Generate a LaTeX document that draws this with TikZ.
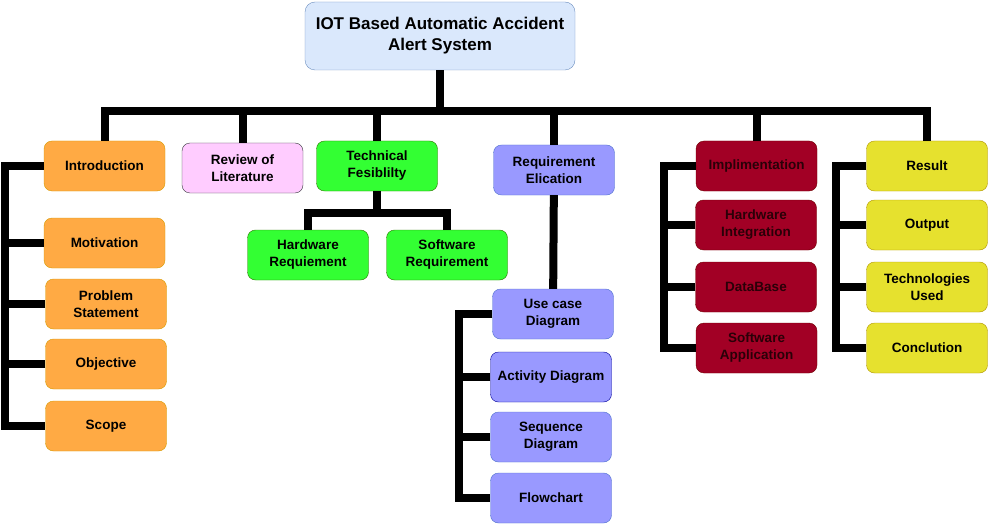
\documentclass[tikz,border=0pt]{standalone}
\usepackage{fontspec}
\setmainfont{Liberation Sans}
\usepackage{tikz}
\usetikzlibrary{positioning}

\definecolor{titlefill}{HTML}{DAE8FC}
\definecolor{titleline}{HTML}{6C8EBF}
\definecolor{orangefill}{HTML}{FFAA44}
\definecolor{orangeline}{HTML}{D79B00}
\definecolor{pinkfill}{HTML}{FFCCFF}
\definecolor{pinkline}{HTML}{36393D}
\definecolor{greenfill}{HTML}{33FF33}
\definecolor{greenline}{HTML}{2D7600}
\definecolor{bluefill}{HTML}{9999FF}
\definecolor{blueline}{HTML}{4D6FCC}
\definecolor{redfill}{HTML}{A20025}
\definecolor{redline}{HTML}{6F0000}
\definecolor{redtext}{HTML}{2A0008}
\definecolor{yellowfill}{HTML}{E6E12E}
\definecolor{yellowline}{HTML}{B09500}

\tikzset{
  box/.style={rounded corners=8pt, minimum width=121pt, minimum height=50pt,
    align=center, inner sep=2pt, font=\fontsize{13.5}{17}\selectfont\bfseries},
  intro/.style={box, fill=orangefill, draw=orangeline},
  review/.style={box, fill=pinkfill, draw=pinkline},
  tech/.style={box, fill=greenfill, draw=greenline},
  req/.style={box, fill=bluefill, draw=blueline},
  impl/.style={box, fill=redfill, draw=redline, text=redtext},
  result/.style={box, fill=yellowfill, draw=yellowline},
  conn/.style={line width=8pt, line join=miter}
}

\begin{document}
\begin{tikzpicture}[x=1pt,y=-1pt]
\useasboundingbox (0,0) rectangle (988,524);

\node[rounded corners=10pt, fill=titlefill, draw=titleline, minimum width=270pt,
  minimum height=68pt, align=center, font=\fontsize{17}{21}\selectfont\bfseries]
  (title) at (440,36) {IOT Based Automatic Accident\\Alert System};

\node[intro] (intro) at (104.5,166) {Introduction};
\node[intro] (motiv) at (104.5,243) {Motivation};
\node[intro] (prob) at (106,304) {Problem\\Statement};
\node[intro] (obj) at (106,364) {Objective};
\node[intro] (scope) at (106,426) {Scope};

\node[review] (rev) at (242.5,168) {Review of\\Literature};

\node[tech] (tech) at (377,166) {Technical\\Fesiblilty};
\node[tech] (hw) at (308,255) {Hardware\\Requiement};
\node[tech] (sw) at (447,255) {Software\\Requirement};

\node[req] (elic) at (554,170) {Requirement\\Elication};
\node[req] (usecase) at (553,314) {Use case\\Diagram};
\node[req, draw=blue!60!black] (activity) at (551,377) {Activity Diagram};
\node[req] (sequence) at (551,437) {Sequence\\Diagram};
\node[req] (flow) at (551,498) {Flowchart};

\node[impl] (impl) at (756.5,166) {Implimentation};
\node[impl] (hwint) at (756,225) {Hardware\\Integration};
\node[impl] (db) at (756,287) {DataBase};
\node[impl] (swapp) at (756.5,348) {Software\\Application};

\node[result] (res) at (927,166) {Result};
\node[result] (out) at (927,225) {Output};
\node[result] (techused) at (927,287) {Technologies\\Used};
\node[result] (concl) at (927,348) {Conclution};

% main bus
\coordinate (bus) at (440,111);
\draw[conn] (title) -- (bus);
\draw[conn] (intro.north) |- (bus) -| (res.north);
\draw[conn] (rev.north) -- (rev.north |- bus);
\draw[conn] (tech.north) -- (tech.north |- bus);
\draw[conn] (elic.north) -- (elic.north |- bus);
\draw[conn] (impl.north) -- (impl.north |- bus);

% introduction
\coordinate (lsp) at (4.5,426);
\draw[conn] (intro.west) -| (lsp) -- (scope.west);
\draw[conn] (motiv.west) -- (motiv.west -| lsp);
\draw[conn] (prob.west) -- (prob.west -| lsp);
\draw[conn] (obj.west) -- (obj.west -| lsp);

% technical
\coordinate (tj) at (377,213);
\draw[conn] (tech) -- (tj);
\draw[conn] (hw.north) |- (tj) -| (sw.north);

% requirement
\coordinate (rsp) at (459,498);
\draw[conn] (elic) -- (usecase);
\draw[conn] (usecase.west) -| (rsp) -- (flow.west);
\draw[conn] (activity.west) -- (activity.west -| rsp);
\draw[conn] (sequence.west) -- (sequence.west -| rsp);

% implementation
\coordinate (isp) at (664,348);
\draw[conn] (impl.west) -| (isp) -- (swapp.west);
\draw[conn] (hwint.west) -- (hwint.west -| isp);
\draw[conn] (db.west) -- (db.west -| isp);

% result
\coordinate (ssp) at (836,348);
\draw[conn] (res.west) -| (ssp) -- (concl.west);
\draw[conn] (out.west) -- (out.west -| ssp);
\draw[conn] (techused.west) -- (techused.west -| ssp);

\end{tikzpicture}
\end{document}
